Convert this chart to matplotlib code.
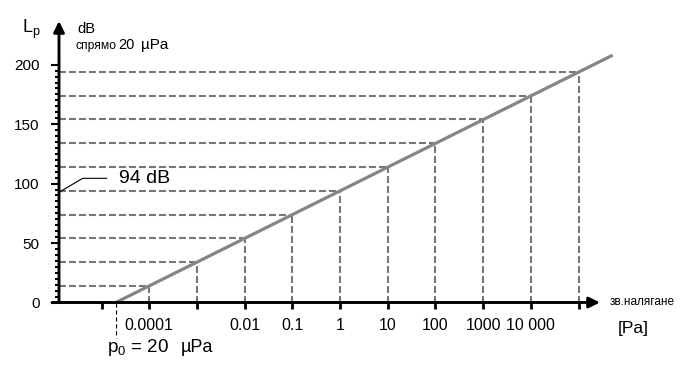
import matplotlib
matplotlib.use('Agg')
import matplotlib.pyplot as plt
from matplotlib.ticker import NullLocator
from matplotlib.patches import ArrowStyle

plt.rcParams['font.family'] = ['Liberation Sans', 'DejaVu Sans']
plt.rcParams['lines.scale_dashes'] = False
plt.rcParams['mathtext.fontset'] = 'custom'
plt.rcParams['mathtext.rm'] = 'Liberation Sans'
plt.rcParams['mathtext.it'] = 'Liberation Sans'

# ---------------- data ----------------
decade_pressures = [1e-4, 1e-3, 1e-2, 1e-1, 1, 10, 100, 1000, 1e4, 1e5]   # Pa
decade_levels = [14, 34, 54, 74, 94, 114, 134, 154, 174, 194]          # dB
line_pressures = [2e-5, 5.2e5]
line_levels = [0, 208]
p0 = 2e-5
xtick_pressures = [1e-5, 1e-4, 1e-3, 1e-2, 1e-1, 1, 10, 100, 1000, 1e4, 1e5]
xtick_labels = ['', '0.0001', '', '0.01', '0.1', '1', '10', '100', '1000', '10 000', '']
ytick_major = [0, 50, 100, 150, 200]
ytick_minor = list(range(0, 205, 5))

# ---------------- layout ----------------
W, H = 693, 371
X0PX, PX_PER_DEC = 340.0, 47.7   # pixel column of 1 Pa, pixels per decade
Y0PX, PX_PER_DB = 302.5, 1.189   # pixel row of 0 dB, pixels per dB


def px_to_p(px):
    return 10 ** ((px - X0PX) / PX_PER_DEC)


def py_to_db(py):
    return (Y0PX - py) / PX_PER_DB


def fx(px):
    return px / W


def fy(py):
    return 1 - py / H


fig = plt.figure(figsize=(W / 100, H / 100), dpi=100)
fig.patch.set_facecolor('white')
ax = fig.add_axes([0, 0, 1, 1])
ax.set_xscale('log')
ax.set_xlim(px_to_p(0), px_to_p(W))
ax.set_ylim(py_to_db(H), py_to_db(0))
ax.patch.set_alpha(0)

yaxis_p = px_to_p(59)

DASH_C = '#767676'
# horizontal and vertical dashed guides
for p, L in zip(decade_pressures, decade_levels):
    ax.plot([yaxis_p, p], [L, L], color=DASH_C, lw=1.5, ls=(0, (5, 2.2)),
            dash_capstyle='butt', zorder=2)
    ax.plot([p, p], [0, L], color=DASH_C, lw=1.5, ls=(0, (5, 2.2)),
            dash_capstyle='butt', zorder=2)

# main line
ax.plot(line_pressures, line_levels, color='#858585', lw=2.3,
        solid_capstyle='butt', zorder=3)

# p0 marker line
ax.plot([p0, p0], [0, py_to_db(338)], color='black', lw=0.8,
        ls=(0, (3, 2)), zorder=2)

# axes with arrows
astyle = ArrowStyle('-|>', head_length=0.65, head_width=0.32)
ax.annotate('', xy=(yaxis_p, py_to_db(21)), xytext=(yaxis_p, 0),
            arrowprops=dict(arrowstyle=astyle, lw=2.1, color='black',
                            shrinkA=0, shrinkB=0, mutation_scale=10),
            zorder=4)
ax.annotate('', xy=(px_to_p(600), 0), xytext=(px_to_p(52), 0),
            arrowprops=dict(arrowstyle=astyle, lw=2.1, color='black',
                            shrinkA=0, shrinkB=0, mutation_scale=10),
            zorder=4)

# spines invisible but used to position ticks
for s in ax.spines.values():
    s.set_visible(False)
ax.spines['bottom'].set_position(('data', 0))
ax.spines['left'].set_position(('data', yaxis_p))

ax.set_xticks(xtick_pressures, xtick_labels)
ax.xaxis.set_minor_locator(NullLocator())
ax.set_yticks(ytick_major)
ax.set_yticks(ytick_minor, minor=True)

ax.tick_params(axis='x', which='major', direction='out', length=4.5, width=2,
               labelsize=11.5, pad=7, top=False)
ax.tick_params(axis='y', which='major', direction='out', length=5.5, width=1.5,
               labelsize=11, pad=8.5, right=False)
ax.tick_params(axis='y', which='minor', direction='out', length=2.8, width=1.5,
               right=False)

# texts
fig.text(fx(22.5), fy(32.7), r'$\mathregular{L_p}$', fontsize=13, va='baseline', ha='left')
fig.text(fx(77), fy(33.3), 'dB', fontsize=10.5, va='baseline', ha='left')
fig.text(fx(75), fy(49.3), 'спрямо', fontsize=8.7, va='baseline', ha='left')
fig.text(fx(118), fy(49.3), '20', fontsize=10.5, va='baseline', ha='left')
fig.text(fx(141), fy(49.3), 'µPa', fontsize=11, va='baseline', ha='left')
fig.text(fx(119), fy(183.3), '94 dB', fontsize=14, va='baseline', ha='left')
fig.text(fx(106.7), fy(352.3), r'$\mathregular{p_0}$ = 20', fontsize=13.5,
         va='baseline', ha='left')
fig.text(fx(181), fy(352.3), 'µPa', fontsize=13, va='baseline', ha='left')
fig.text(fx(610), fy(305), 'зв.налягане', fontsize=8.5, va='baseline', ha='left')
fig.text(fx(618), fy(332.7), '[Pa]', fontsize=12.5, va='baseline', ha='left')

# leader line for 94 dB
ax.plot([fx(60), fx(82.7), fx(106.7)], [fy(191.7), fy(178.3), fy(178.3)],
        color='black', lw=0.8, transform=ax.transAxes, zorder=4)

fig.savefig('out.png', dpi=100, facecolor='white')
